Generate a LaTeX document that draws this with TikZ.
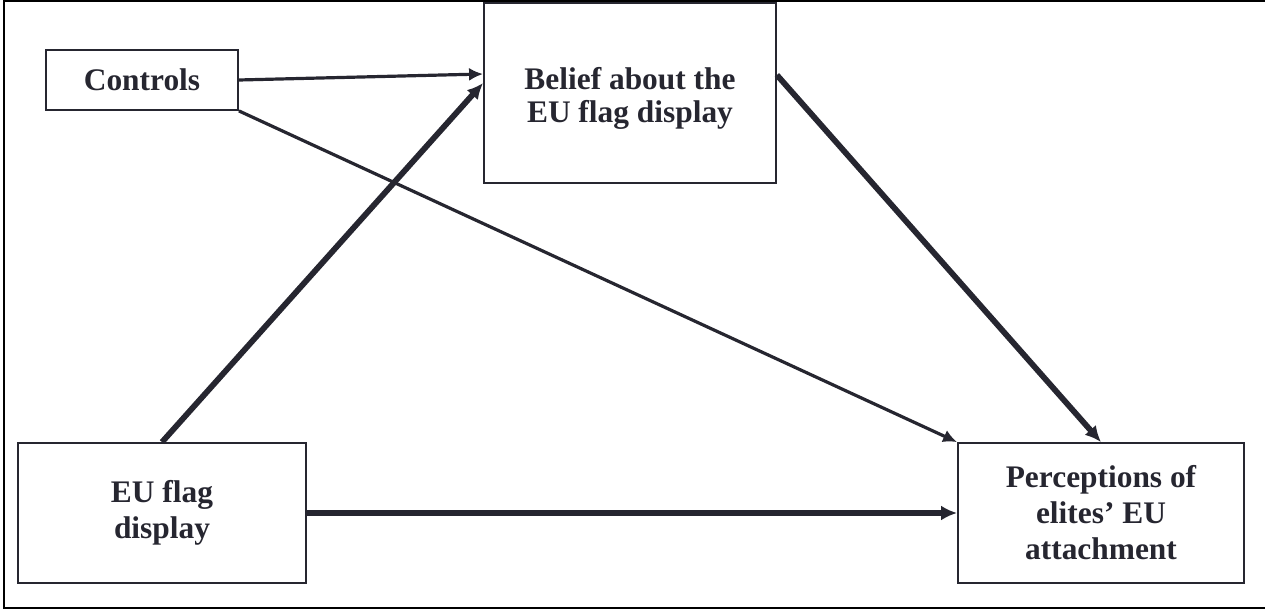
\documentclass[tikz,border=0pt]{standalone}
\usepackage{fontspec}
\setmainfont{Liberation Serif}
\usetikzlibrary{arrows.meta}
\definecolor{ink}{RGB}{38,38,48}
\newcommand{\lowerby}[2]{\raisebox{-#1}[\height][\depth]{\begin{tabular}{@{}c@{}}#2\end{tabular}}}
\begin{document}
\begin{tikzpicture}[x=0.5pt,y=-0.5pt,
  box/.style={draw=ink,line width=0.9pt,rectangle,inner sep=0pt,align=center,
    text=ink,font=\fontsize{15.7}{18}\selectfont\bfseries},
  thin/.style={draw=ink,line width=1.6pt,-{Latex[length=7pt,width=6.5pt]}},
  thick/.style={draw=ink,line width=2.9pt,-{Latex[length=8pt,width=7.5pt]}},
  frame/.style={draw=black,line width=1.25pt}]
\useasboundingbox (0,0) rectangle (1265,610);
\draw[frame] (1266,1) -- (4,1) -- (4,608) -- (1266,608);
\node[box,minimum width=96pt,minimum height=30pt] (ctrl) at (142,80) {Controls};
\node[box,minimum width=146pt,minimum height=90pt,font=\fontsize{15.7}{16.5}\selectfont\bfseries] (belief) at (630,93) {\lowerby{3pt}{Belief about the\\EU flag display}};
\node[box,minimum width=144pt,minimum height=70pt] (eu) at (162,513) {EU flag\\display};
\node[box,minimum width=143pt,minimum height=70pt] (perc) at (1101,513) {Perceptions of\\elites’ EU\\attachment};
\draw[thin] (ctrl.east) -- ([yshift=9.5pt]belief.west);
\draw[thin] (ctrl.south east) -- (perc.north west);
\draw[thick] (eu.north) -- ([yshift=5pt]belief.west);
\draw[thick] ([yshift=9pt]belief.east) -- (perc.north);
\draw[thick] (eu.east) -- (perc.west);
\end{tikzpicture}
\end{document}
